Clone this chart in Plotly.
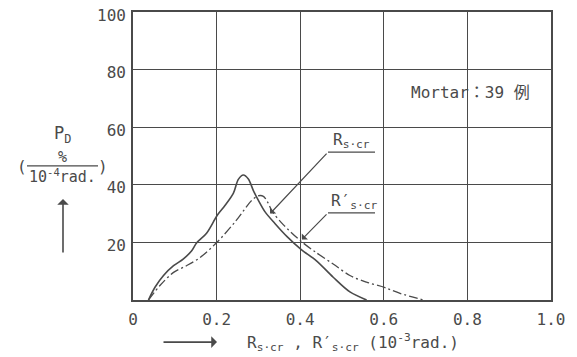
import plotly.graph_objects as go

# Solid curve: R_s.cr
rs_x = [0.037, 0.053, 0.073, 0.097, 0.120, 0.140, 0.152, 0.176, 0.202, 0.220, 0.240, 0.252, 0.264,
        0.276, 0.288, 0.300, 0.316, 0.340, 0.368, 0.402, 0.439, 0.479, 0.519, 0.559]
rs_y = [0, 4.5, 8.5, 11.9, 14.2, 17, 19.8, 23.2, 29.5, 32.8, 37, 41.9, 43.4,
        42, 38, 34.6, 30.6, 26.5, 22.1, 17.6, 13.6, 7.9, 2.8, 0]

# Dash-dot curve: R'_s.cr
rsp_x = [0.037, 0.065, 0.097, 0.128, 0.160, 0.202, 0.248, 0.284, 0.300, 0.312, 0.322, 0.334,
         0.360, 0.402, 0.439, 0.479, 0.519, 0.559, 0.603, 0.639, 0.695]
rsp_y = [0, 5.1, 9.6, 11.9, 14.7, 20.2, 27.8, 34.6, 36.2, 36, 34, 30.6,
         26.1, 20.4, 16.4, 12.5, 8.5, 6.2, 4.3, 2.3, 0]

x_ticks = [0, 0.2, 0.4, 0.6, 0.8, 1.0]
x_ticktext = ["0", "0.2", "0.4", "0.6", "0.8", "1.0"]
y_ticks = [20, 40, 60, 80, 100]

INK = "#4a4a4a"
FONT = "DejaVu Sans Mono"

W, H = 577, 357
L, R, T, B = 133, 26, 6, 57
PW, PH = W - L - R, H - T - B


def pxx(p):
    return (p - L) / PW


def pxy(p):
    return (H - B - p) / PH


fig = go.Figure()
fig.add_trace(go.Scatter(x=rs_x, y=rs_y, mode="lines",
                         line=dict(color=INK, width=1.6, shape="spline", smoothing=0.9),
                         showlegend=False, hoverinfo="skip"))
fig.add_trace(go.Scatter(x=rsp_x, y=rsp_y, mode="lines",
                         line=dict(color=INK, width=1.3, shape="spline", smoothing=0.9,
                                   dash="9px,3px,2px,3px"),
                         showlegend=False, hoverinfo="skip"))

axis_common = dict(showgrid=True, gridcolor=INK, gridwidth=1.2, showline=True,
                   linecolor=INK, linewidth=1.6, mirror=True, zeroline=False,
                   ticks="", ticklabeloverflow="allow",
                   tickfont=dict(family=FONT, size=16, color=INK))

fig.update_layout(
    width=W, height=H,
    margin=dict(l=L, r=R, t=T, b=B),
    paper_bgcolor="white", plot_bgcolor="white",
    xaxis=dict(range=[0, 1.0001], tickvals=x_ticks, ticktext=x_ticktext,
               ticklabelstandoff=4, **axis_common),
    yaxis=dict(range=[0, 100.001], tickvals=y_ticks, ticktext=[str(v) for v in y_ticks],
               ticklabelshift=3, ticklabelstandoff=2, **axis_common),
)


def txt(x, y, text, size=16, xa="center", ya="middle", family=FONT):
    return dict(x=x, y=y, xref="paper", yref="paper", xanchor=xa, yanchor=ya,
                text=text, showarrow=False, font=dict(family=family, size=size, color=INK))


annots = []
# curve labels with leader arrows
annots.append(dict(x=0.328, y=30.0, ax=pxx(328), ay=(H - B - 149) / PH * 100,
                   xref="x", yref="y", axref="x", ayref="y", text="",
                   showarrow=True, arrowhead=1, arrowsize=1.2, arrowwidth=1.2, arrowcolor=INK))
annots.append(dict(x=0.404, y=21.0, ax=pxx(328), ay=(H - B - 211) / PH * 100,
                   xref="x", yref="y", axref="x", ayref="y", text="",
                   showarrow=True, arrowhead=1, arrowsize=1.2, arrowwidth=1.2, arrowcolor=INK))
annots.append(txt(pxx(331), pxy(150), "R<sub>s·cr</sub>", xa="left", ya="bottom"))
annots.append(txt(pxx(329), pxy(212), "R′<sub>s·cr</sub>", xa="left", ya="bottom"))
annots.append(txt(pxx(470), pxy(88), "Mortar：39 例", size=16, family=FONT + ", Noto Sans CJK JP"))
# y-axis title
annots.append(txt(pxx(62), pxy(131), "P<sub>D</sub>", size=17))
annots.append(txt(pxx(62), pxy(154), "%", size=15))
annots.append(txt(pxx(62), pxy(173), "10<sup>-4</sup>rad.", size=15))
annots.append(txt(pxx(22), pxy(164), "(", size=16))
annots.append(txt(pxx(103), pxy(164), ")", size=16))
annots.append(dict(x=pxx(63), y=pxy(197), ax=0, ay=55, xref="paper", yref="paper", text="",
                   showarrow=True, arrowhead=1, arrowsize=1.2, arrowwidth=1.6, arrowcolor=INK))
# x-axis title
annots.append(dict(x=pxx(217), y=pxy(343), ax=-55, ay=0, xref="paper", yref="paper", text="",
                   showarrow=True, arrowhead=1, arrowsize=1.2, arrowwidth=1.6, arrowcolor=INK))
annots.append(txt(pxx(245), pxy(343), "R<sub>s·cr</sub> , R′<sub>s·cr</sub> (10<sup>-3</sup>rad.)",
                  xa="left"))
fig.update_layout(annotations=annots)

shapes = [
    dict(type="line", xref="paper", yref="paper", x0=pxx(328), x1=pxx(375), y0=pxy(149), y1=pxy(149),
         line=dict(color=INK, width=1.2)),
    dict(type="line", xref="paper", yref="paper", x0=pxx(328), x1=pxx(375), y0=pxy(211), y1=pxy(211),
         line=dict(color=INK, width=1.2)),
    dict(type="line", xref="paper", yref="paper", x0=pxx(27), x1=pxx(98), y0=pxy(163), y1=pxy(163),
         line=dict(color=INK, width=1.2)),
]
fig.update_layout(shapes=shapes)

fig.write_html("out.html")
